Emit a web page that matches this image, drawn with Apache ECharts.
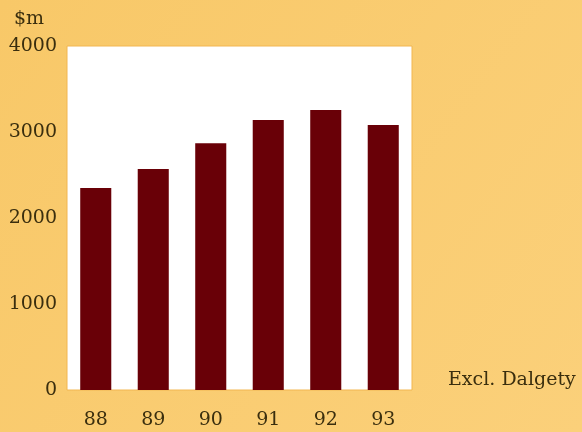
<!DOCTYPE html>
<html>
<head>
<meta charset="utf-8">
<script src="https://cdn.jsdelivr.net/npm/echarts@6/dist/echarts.min.js"></script>
<style>
html,body{margin:0;padding:0;background:#F9CA6C;}
#chart{width:582px;height:432px;}
</style>
</head>
<body>
<div id="chart"></div>
<script>
// Yearly totals, $m
const years = ['88', '89', '90', '91', '92', '93'];
const values = [2350, 2570, 2870, 3140, 3255, 3080];
const yTicks = [0, 1000, 2000, 3000, 4000];

const textColor = '#3a2e0e';
const serif = '"DejaVu Serif", "Liberation Serif", serif';

const chart = echarts.init(document.getElementById('chart'), null, {renderer: 'canvas'});
chart.setOption({
  backgroundColor: {
    type: 'linear', x: 0, y: 0, x2: 1, y2: 1,
    colorStops: [{offset: 0, color: '#F8C868'}, {offset: 1, color: '#FBD07A'}]
  },
  animation: false,
  grid: {left: 67, right: 170, top: 46, bottom: 42, show: true,
         backgroundColor: '#ffffff', borderColor: '#F2B650', borderWidth: 1},
  xAxis: {
    type: 'category', data: years,
    axisLine: {show: false}, axisTick: {show: false},
    axisLabel: {color: textColor, fontFamily: serif, fontSize: 19, margin: 21}
  },
  yAxis: {
    type: 'value', min: yTicks[0], max: yTicks[yTicks.length - 1], interval: 1000,
    splitLine: {show: false}, axisLine: {show: false}, axisTick: {show: false},
    axisLabel: {color: textColor, fontFamily: serif, fontSize: 19, margin: 10,
                formatter: v => String(v)}
  },
  graphic: [
    {type: 'text', left: 14, top: 10,
     style: {text: '$m', fill: textColor, font: '19px ' + serif}},
    {type: 'text', left: 448, top: 371,
     style: {text: 'Excl. Dalgety', fill: textColor, font: '19px ' + serif}}
  ],
  series: [{
    type: 'bar', data: values, barWidth: '54%',
    itemStyle: {color: '#690007'}
  }]
});
</script>
</body>
</html>
